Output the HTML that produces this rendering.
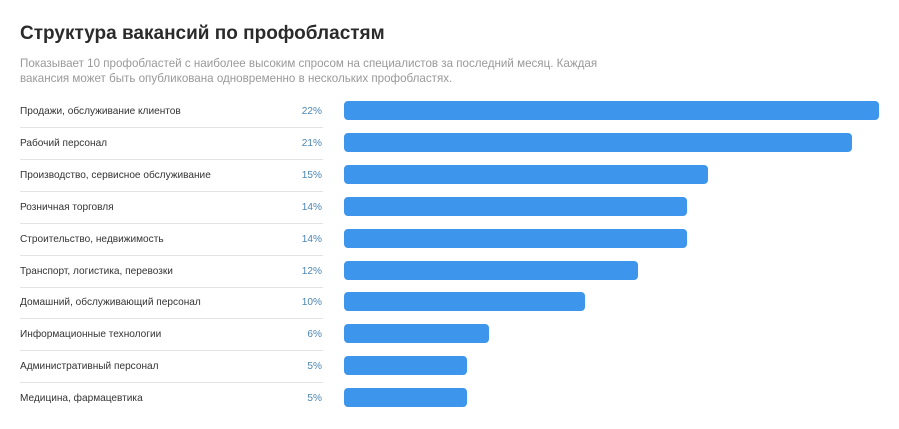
<!DOCTYPE html>
<html><head><meta charset="utf-8"><style>
body{margin:0;width:899px;height:429px;background:#fff;font-family:"Liberation Sans",sans-serif;position:relative;overflow:hidden}
h1{position:absolute;left:20px;top:23px;margin:0;font-size:19px;font-weight:bold;color:#2b2b2b}
.sub{position:absolute;left:20px;top:56px;font-size:11.6px;line-height:15px;color:#999}
.row{position:absolute;left:20px;width:303px;height:32px;border-bottom:1px solid #e3e3e3;font-size:10.1px;color:#333}
.row span{position:absolute;top:11px}
.row b{position:absolute;right:1px;top:11px;font-weight:normal;color:#4a86b3}
.bar{position:absolute;left:344px;height:19px;background:#3d96ec;border-radius:4px}
</style></head><body>
<h1>Структура вакансий по профобластям</h1>
<div class="sub">Показывает 10 профобластей с наиболее высоким спросом на специалистов за последний месяц. Каждая<br>вакансия может быть опубликована одновременно в нескольких профобластях.</div>
<div class="row" style="top:95px"><span>Продажи, обслуживание клиентов</span><b>22%</b></div>
<div class="row" style="top:127px"><span>Рабочий персонал</span><b>21%</b></div>
<div class="row" style="top:159px"><span>Производство, сервисное обслуживание</span><b>15%</b></div>
<div class="row" style="top:191px"><span>Розничная торговля</span><b>14%</b></div>
<div class="row" style="top:223px"><span>Строительство, недвижимость</span><b>14%</b></div>
<div class="row" style="top:255px"><span>Транспорт, логистика, перевозки</span><b>12%</b></div>
<div class="row" style="top:286px"><span>Домашний, обслуживающий персонал</span><b>10%</b></div>
<div class="row" style="top:318px"><span>Информационные технологии</span><b>6%</b></div>
<div class="row" style="top:350px"><span>Административный персонал</span><b>5%</b></div>
<div class="row" style="top:382px;border-bottom:none"><span>Медицина, фармацевтика</span><b>5%</b></div>
<div class="bar" style="top:101px;width:535px"></div>
<div class="bar" style="top:133px;width:508px"></div>
<div class="bar" style="top:165px;width:364px"></div>
<div class="bar" style="top:197px;width:343px"></div>
<div class="bar" style="top:229px;width:343px"></div>
<div class="bar" style="top:261px;width:294px"></div>
<div class="bar" style="top:292px;width:241px"></div>
<div class="bar" style="top:324px;width:145px"></div>
<div class="bar" style="top:356px;width:123px"></div>
<div class="bar" style="top:388px;width:123px"></div>
</body></html>
